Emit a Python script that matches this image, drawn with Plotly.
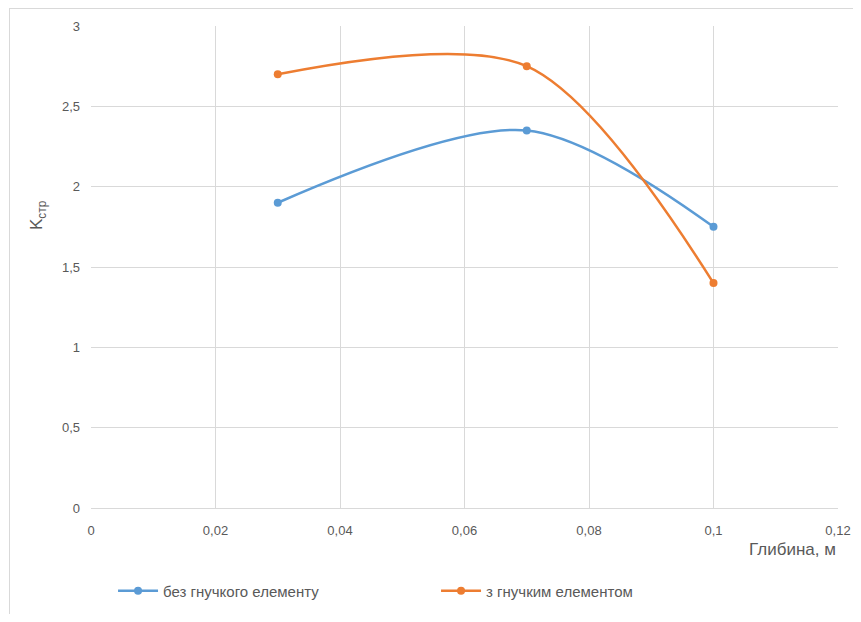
import plotly.graph_objects as go

depth = [0.03, 0.07, 0.1]
without_flex = [1.9, 2.35, 1.75]
with_flex = [2.7, 2.75, 1.4]
series_names = ["без гнучкого елементу", "з гнучким елементом"]
x_ticks = [0, 0.02, 0.04, 0.06, 0.08, 0.1, 0.12]
x_tick_labels = ["0", "0,02", "0,04", "0,06", "0,08", "0,1", "0,12"]
y_ticks = [0, 0.5, 1, 1.5, 2, 2.5, 3]
y_tick_labels = ["0", "0,5", "1", "1,5", "2", "2,5", "3"]

FONT = "Liberation Sans Narrow, Liberation Sans"
GREY = "#595959"

# page body has an 8px margin; figure coordinates are offset by 8px
W, H = 853, 606
L, T, R = 83, 18, 23
B = H - (508 - 8)
PW = W - L - R
PH = H - T - B


def px_x(x):
    return (x - 8 - L) / PW


def px_y(y):
    return (H - B - (y - 8)) / PH


fig = go.Figure()
fig.add_trace(go.Scatter(x=depth, y=without_flex, name=series_names[0],
                         mode="lines+markers", line=dict(color="#5b9bd5", width=2.5, shape="spline", smoothing=0.9),
                         marker=dict(size=8, color="#5b9bd5")))
fig.add_trace(go.Scatter(x=depth, y=with_flex, name=series_names[1],
                         mode="lines+markers", line=dict(color="#ed7d31", width=2.5, shape="spline", smoothing=0.9),
                         marker=dict(size=8, color="#ed7d31")))

fig.update_layout(
    width=W, height=H,
    margin=dict(l=L, r=R, t=T, b=B, autoexpand=False),
    paper_bgcolor="white", plot_bgcolor="white",
    font=dict(family=FONT, size=13, color=GREY),
    showlegend=True,
    legend=dict(orientation="h", x=px_x(122) - 0.012, xanchor="left", y=px_y(591), yanchor="middle",
                entrywidth=268, entrywidthmode="pixels", itemwidth=40,
                font=dict(family=FONT, size=15, color=GREY)),
    xaxis=dict(range=[0, 0.12], tickvals=x_ticks, ticktext=x_tick_labels,
               showgrid=True, gridcolor="#d9d9d9", gridwidth=1,
               showline=True, linecolor="#d9d9d9", mirror=False, zeroline=False,
               ticks="", ticklabelstandoff=10, tickfont=dict(size=13, color=GREY)),
    yaxis=dict(range=[0, 3], tickvals=y_ticks, ticktext=y_tick_labels,
               showgrid=True, gridcolor="#d9d9d9", gridwidth=1,
               showline=False, zeroline=False, ticks="", ticklabelstandoff=10,
               tickfont=dict(size=13, color=GREY)),
)

fig.add_annotation(text="Глибина, м", xref="paper", yref="paper", x=1, y=px_y(549),
                   xanchor="right", yanchor="middle", showarrow=False,
                   font=dict(family=FONT, size=17, color=GREY))
fig.add_annotation(text="K<sub>стр</sub>", xref="paper", yref="paper", x=px_x(38), y=px_y(215),
                   xanchor="center", yanchor="middle", showarrow=False, textangle=-90,
                   font=dict(family=FONT, size=17, color=GREY))

# chart-area border (top and left)
fig.add_shape(type="line", xref="paper", yref="paper", x0=px_x(9), x1=px_x(880),
              y0=px_y(8.5), y1=px_y(8.5), line=dict(color="#d9d9d9", width=1))
fig.add_shape(type="line", xref="paper", yref="paper", x0=px_x(9.5), x1=px_x(9.5),
              y0=px_y(8), y1=px_y(640), line=dict(color="#d9d9d9", width=1))

fig.write_html("out.html")
